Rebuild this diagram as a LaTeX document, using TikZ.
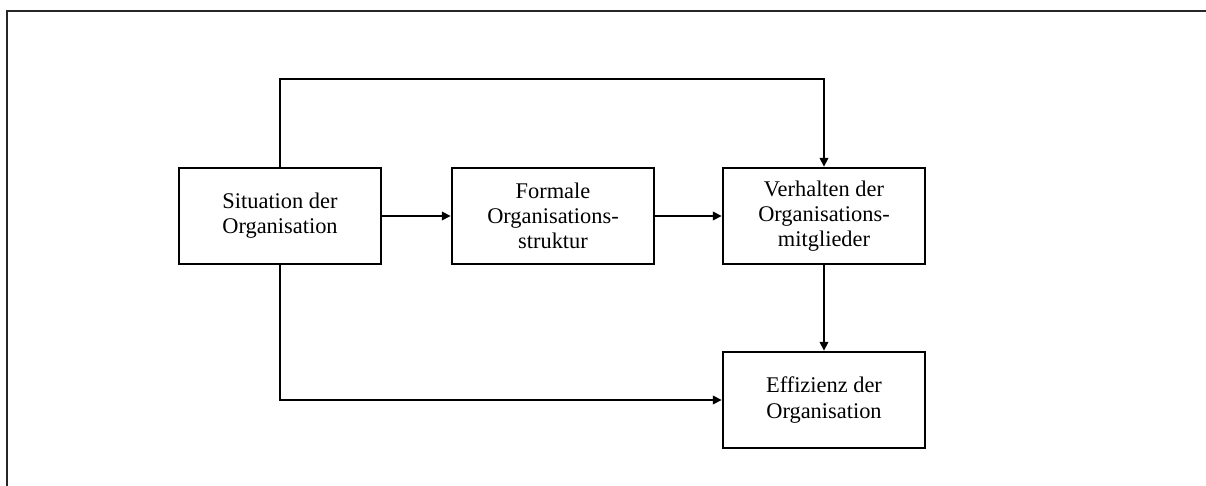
\documentclass[tikz,border=0pt]{standalone}
\usepackage{fontspec}
\setmainfont{Liberation Serif}
\usetikzlibrary{arrows.meta}
\begin{document}
\begin{tikzpicture}[x=0.5pt,y=-0.5pt,
  box/.style={draw, line width=1.2pt, minimum width=101pt, minimum height=48pt,
    inner sep=0pt, align=center, font=\fontsize{11.2pt}{12.6pt}\selectfont},
  link/.style={line width=1.2pt, -{Triangle[length=4.5pt,width=4.2pt]}},
  frame/.style={line width=0.7pt, draw=black!85}]
  \useasboundingbox (0,0) rectangle (1206,486);
  % open frame: top and left edges
  \draw[frame] (7,486) -- (7,11) -- (1206,11);
  % blocks
  \node[box] (sit) at (280,216) {Situation der\\Organisation};
  \node[box] (form) at (553,216) {Formale\\Organisations-\\struktur};
  \node[box] (verh) at (824,216) {Verhalten der\\Organisations-\\mitglieder};
  \node[box] (eff) at (824,400) {Effizienz der\\Organisation};
  \coordinate (top) at (550,79);
  % connectors
  \draw[link] (sit) -- (form);
  \draw[link] (form) -- (verh);
  \draw[link] (verh) -- (eff);
  \draw[link] (sit.north) |- (top) -| (verh.north);
  \draw[link] (sit.south) |- (eff.west);
\end{tikzpicture}
\end{document}
